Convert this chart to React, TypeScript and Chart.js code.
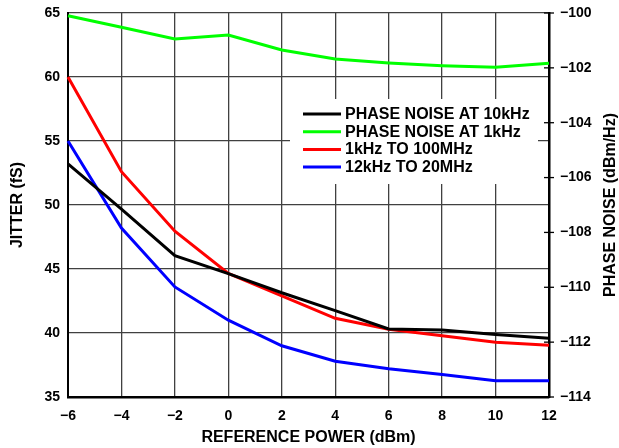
import React, { useEffect, useRef } from "react";
import { Chart, registerables } from "chart.js";

Chart.register(...registerables);

const xValues = [-6, -4, -2, 0, 2, 4, 6, 8, 10, 12];
const phaseNoise10k = [-105.5, -107.15, -108.85, -109.5, -110.2, -110.85, -111.52, -111.56, -111.72, -111.86];
const phaseNoise1k = [-100.1, -100.52, -100.95, -100.8, -101.35, -101.68, -101.82, -101.92, -101.98, -101.83];
const jitter1k100M = [60, 52.6, 47.95, 44.65, 42.9, 41.15, 40.3, 39.78, 39.28, 39.05];
const jitter12k20M = [55, 48.2, 43.6, 41.0, 39.0, 37.8, 37.2, 36.75, 36.27, 36.27];

const seriesLabels = ["PHASE NOISE AT 10kHz", "PHASE NOISE AT 1kHz", "1kHz TO 100MHz", "12kHz TO 20MHz"];
const seriesColors = ["#000000", "#00ff00", "#ff0000", "#0000ff"];

const xTitle = "REFERENCE POWER (dBm)";
const yLeftTitle = "JITTER (fS)";
const yRightTitle = "PHASE NOISE (dBm/Hz)";

const FONT = "'Liberation Sans', Arial, Helvetica, sans-serif";

const fmt = (v: number) => (v < 0 ? "\u2212" + Math.abs(v) : String(v));

const overlayPlugin = {
  id: "overlay",
  beforeDatasetsDraw(chart: any) {
    const { ctx, chartArea } = chart;
    ctx.save();
    ctx.fillStyle = "#ffffff";
    ctx.fillRect(chartArea.left + 222, chartArea.top + 86, 248, 85);
    ctx.restore();
  },
  afterDatasetsDraw(chart: any) {
    const { ctx, chartArea } = chart;
    ctx.save();
    // legend
    const lx = chartArea.left + 235;
    const ly = chartArea.top + 101;
    ctx.font = `bold 16px ${FONT}`;
    ctx.textBaseline = "middle";
    ctx.textAlign = "left";
    chart.data.datasets.forEach((ds: any, i: number) => {
      const yy = ly + i * 17.7;
      ctx.strokeStyle = ds.borderColor;
      ctx.lineWidth = 3;
      ctx.beginPath();
      ctx.moveTo(lx, yy);
      ctx.lineTo(lx + 38, yy);
      ctx.stroke();
      ctx.fillStyle = "#000";
      ctx.fillText(ds.label, lx + 42, yy + 0.5);
    });
    // right tick marks
    const s = chart.scales.y1;
    ctx.strokeStyle = "#000";
    ctx.lineWidth = 1.3;
    s.ticks.forEach((t: any) => {
      const py = s.getPixelForValue(t.value);
      ctx.beginPath();
      ctx.moveTo(chartArea.right - 5, py);
      ctx.lineTo(chartArea.right + 5, py);
      ctx.stroke();
    });
    // right title
    ctx.font = `bold 16px ${FONT}`;
    ctx.fillStyle = "#000";
    ctx.textAlign = "center";
    ctx.textBaseline = "middle";
    ctx.translate(611, (chartArea.top + chartArea.bottom) / 2);
    ctx.rotate(-Math.PI / 2);
    ctx.fillText(yRightTitle, 0, 0);
    ctx.restore();
  },
};

export default function App() {
  const ref = useRef<HTMLCanvasElement | null>(null);
  useEffect(() => {
    document.body.style.margin = "0";
    if (!ref.current) return;
    const tickFont = { family: FONT, size: 14, weight: "bold" as const };
    const titleFont = { family: FONT, size: 16, weight: "bold" as const };
    const chart = new Chart(ref.current, {
      type: "line",
      data: {
        labels: xValues,
        datasets: [
          { label: seriesLabels[0], data: xValues.map((x, i) => ({ x, y: phaseNoise10k[i] })), yAxisID: "y1", borderColor: seriesColors[0] },
          { label: seriesLabels[1], data: xValues.map((x, i) => ({ x, y: phaseNoise1k[i] })), yAxisID: "y1", borderColor: seriesColors[1] },
          { label: seriesLabels[2], data: xValues.map((x, i) => ({ x, y: jitter1k100M[i] })), yAxisID: "y", borderColor: seriesColors[2] },
          { label: seriesLabels[3], data: xValues.map((x, i) => ({ x, y: jitter12k20M[i] })), yAxisID: "y", borderColor: seriesColors[3] },
        ].map((d) => ({ ...d, borderWidth: 3, pointRadius: 0, tension: 0, fill: false, clip: false as any })),
      },
      options: {
        animation: false,
        responsive: true,
        maintainAspectRatio: false,
        layout: { padding: { top: 13, left: 0, right: 0, bottom: 0 } },
        plugins: { legend: { display: false }, tooltip: { enabled: false } },
        scales: {
          x: {
            type: "linear",
            min: -6,
            max: 12,
            afterFit: (s: any) => { s.height = 51; },
            ticks: { stepSize: 2, color: "#000", font: tickFont, padding: 11, callback: (v: any) => fmt(Number(v)), maxRotation: 0 },
            grid: { color: "#404040", lineWidth: 1.3, drawTicks: false },
            border: { color: "#000", width: 2.5 },
            title: { display: true, text: xTitle, color: "#000", font: titleFont, padding: { top: 0, bottom: 1 } },
          },
          y: {
            type: "linear",
            position: "left",
            min: 35,
            max: 65,
            afterFit: (s: any) => { s.width = 68; s.paddingTop = 0; s.paddingBottom = 0; },
            ticks: { stepSize: 5, color: "#000", font: tickFont, padding: 8 },
            grid: { color: "#404040", lineWidth: 1.3, drawTicks: false },
            border: { color: "#000", width: 2 },
            title: { display: true, text: yLeftTitle, color: "#000", font: titleFont, padding: { top: 8, bottom: 0 } },
          },
          y1: {
            type: "linear",
            position: "right",
            min: -114,
            max: -100,
            afterFit: (s: any) => { s.width = 70; s.paddingTop = 0; s.paddingBottom = 0; },
            ticks: { stepSize: 2, color: "#000", font: tickFont, padding: 11, callback: (v: any) => fmt(Number(v)) },
            grid: { display: true, drawOnChartArea: false, drawTicks: false },
            border: { color: "#000", width: 2.5 },
          },
        },
      },
      plugins: [overlayPlugin],
    });
    return () => chart.destroy();
  }, []);
  return (
    <div style={{ position: "absolute", left: 0, top: 0, width: 619, height: 448 }}>
      <canvas ref={ref} />
    </div>
  );
}
